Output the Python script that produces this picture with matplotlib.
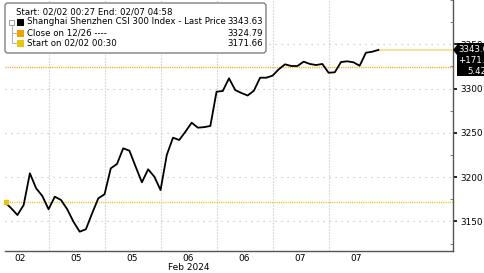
import numpy as np
import matplotlib.pyplot as plt
from matplotlib.patches import FancyBboxPatch, Rectangle, Polygon
from matplotlib.ticker import MultipleLocator

# CSI 300 intraday, Feb 2 - Feb 7 2024 (evenly spaced samples)
prices = [3171.66, 3164.9, 3157.3, 3168.6, 3204.4, 3187.5, 3178.8, 3163.8, 3178.0, 3174.3,
          3163.8, 3149.8, 3138.5, 3141.2, 3159.2, 3176.2, 3180.7, 3210.0, 3214.9, 3232.6,
          3229.9, 3211.8, 3194.2, 3208.9, 3200.6, 3185.5, 3225.1, 3244.6, 3242.0, 3251.4,
          3261.5, 3255.9, 3256.5, 3257.8, 3296.5, 3297.3, 3311.6, 3298.4, 3295.0, 3292.2,
          3297.6, 3312.3, 3312.3, 3314.6, 3321.8, 3327.4, 3325.5, 3325.5, 3330.4, 3327.8,
          3326.6, 3327.8, 3317.9, 3318.4, 3330.0, 3330.8, 3329.7, 3325.8, 3340.5, 3341.6,
          3343.63]
session_starts = [7, 16, 25, 34, 43, 52]
session_labels = ["02", "05", "05", "06", "06", "07", "07"]
close_1226 = 3324.79
start_0202 = 3171.66
last_price = 3343.63
change = 171.97
change_pct = 5.42

W, H = 485, 273
FS = 6.2
plt.rcParams['font.family'] = ['DejaVu Sans']

fig = plt.figure(figsize=(W / 100, H / 100), dpi=100)
ax = fig.add_axes([5 / W, 22 / H, 448 / W, 1 - 22 / H])

x = np.arange(len(prices))
ax.plot(x, prices, color='black', lw=1.3, zorder=4)
ax.set_xlim(0, 72)
ax.set_ylim(3116.7, 3400)

ax.axhline(close_1226, color='#F5A623', ls=(0, (0.8, 0.8)), lw=1, zorder=2)
ax.axhline(start_0202, color='#E6C21A', ls=(0, (0.8, 0.8)), lw=1, zorder=2)
ax.plot([x[-1], 72], [last_price, last_price], color='#F2E2A0', lw=1.5, zorder=3)
ax.plot(0.2, start_0202, marker='s', ms=3, color='#E6C21A', clip_on=False, zorder=5)

# y axis on the right
ax.yaxis.tick_right()
ax.set_yticks([3150, 3200, 3250, 3300, 3350])
ax.yaxis.set_minor_locator(MultipleLocator(25))
ax.tick_params(axis='y', which='major', direction='out', length=3, width=1.2,
               color='black', labelsize=FS + 0.2, pad=2)
ax.tick_params(axis='y', which='minor', direction='in', length=2, color='#666')
ax.grid(axis='y', which='major', color='#bdbdbd', ls=(0, (1, 4.4)), lw=0.8)

# x axis: labels between session boundaries
mids = [s - 4.5 for s in session_starts] + [session_starts[-1] + 4.5]
ax.set_xticks(mids, session_labels)
ax.set_xticks(session_starts, minor=True)
ax.tick_params(axis='x', which='both', length=0, labelsize=FS + 0.3, pad=2)
ax.grid(axis='x', which='minor', color='#bdbdbd', ls=(0, (1, 1.7)), lw=0.8)

for s in ['left', 'top']:
    ax.spines[s].set_visible(False)
for s in ['right', 'bottom']:
    ax.spines[s].set_color('#555555')
    ax.spines[s].set_linewidth(1)

fig.text(189 / W, 1 - 267 / H, 'Feb 2024', ha='center', va='center', fontsize=FS + 0.3)

# overlay in pixel coordinates for the legend and the last-price tag
ov = fig.add_axes([0, 0, 1, 1], zorder=10)
ov.set_xlim(0, W)
ov.set_ylim(H, 0)
ov.axis('off')
ov.patch.set_alpha(0)

ov.add_patch(FancyBboxPatch((5, 3), 261, 50, boxstyle='round,pad=0,rounding_size=3',
                            fc='white', ec='#808080', lw=1))
ov.text(16, 12, 'Start: 02/02 00:27 End: 02/07 04:58', fontsize=FS, va='center')

rows = [('Shanghai Shenzhen CSI 300 Index - Last Price', last_price, 'black', 22),
        ('Close on 12/26 ----', close_1226, '#F5A000', 33),
        ('Start on 02/02 00:30', start_0202, '#E8C510', 43)]
for label, val, col, y in rows:
    ov.add_patch(Rectangle((17, y - 3.5), 7, 7, fc=col, ec='none'))
    ov.text(27, y, label, fontsize=FS, va='center')
    ov.text(263, y, f'{val:.2f}', fontsize=FS, va='center', ha='right')

# tree connector
ov.add_patch(Rectangle((9.5, 19.5), 5, 5, fc='white', ec='#a0a0a0', lw=0.7))
ov.plot([12, 12], [24.5, 43], color='#b0b0b0', lw=0.7)
ov.plot([12, 16], [33, 33], color='#b0b0b0', lw=0.7)
ov.plot([12, 16], [43, 43], color='#b0b0b0', lw=0.7)

# last price tag on the right axis
ov.add_patch(Polygon([(453, 50), (457, 45), (457, 43), (490, 43), (490, 76),
                      (457, 76), (457, 55)], closed=True, fc='black', ec='none'))
ov.text(458, 50, f'{last_price:.2f}', color='white', fontsize=FS, va='center')
ov.text(458, 60.5, f'+{change:.2f}', color='white', fontsize=FS, va='center')
ov.text(467.5, 71, f'{change_pct:.2f}%', color='white', fontsize=FS, va='center')

fig.savefig('out.png', dpi=100)
